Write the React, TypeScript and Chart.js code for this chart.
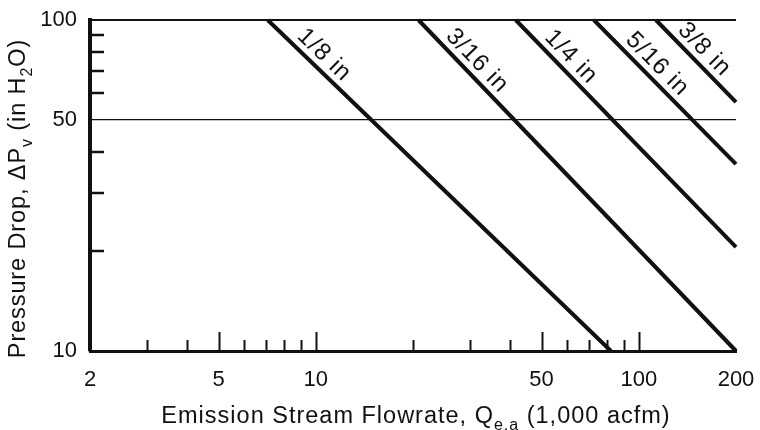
import React, { useEffect, useRef } from "react";
import { Chart, registerables } from "chart.js";

Chart.register(...registerables);

// ---- data ----
const xTickLabels = [2, 5, 10, 50, 100, 200];
const xMinorTicks = [3, 4, 6, 7, 8, 9, 20, 30, 40, 60, 70, 80, 90];
const xLongTicks = [5, 10, 50, 100];
const yTickLabels = [10, 50, 100];
const yMinorTicks = [20, 30, 40, 60, 70, 80, 90];
const yGridValues = [50, 100];

const seriesNames = ["1/8 in", "3/16 in", "1/4 in", "5/16 in", "3/8 in"];
const flow18 = [7.1, 82];
const drop18 = [100, 10];
const flow316 = [20.8, 200];
const drop316 = [100, 10];
const flow14 = [41.6, 200];
const drop14 = [100, 20.6];
const flow516 = [72.6, 200];
const drop516 = [100, 36.7];
const flow38 = [113, 200];
const drop38 = [100, 56.5];

const seriesFlows = [flow18, flow316, flow14, flow516, flow38];
const seriesDrops = [drop18, drop316, drop14, drop516, drop38];

// ---- styling / layout (not data) ----
const FONT = "'Liberation Sans', Arial, Helvetica, sans-serif";
const INK = "#111";
const labelAlong = [65, 70, 65, 76, 55];
const labelPerp = 14;

type Seg = { t: string; sub?: boolean };
const xTitle: Seg[] = [
  { t: "Emission Stream Flowrate, Q" },
  { t: "e,a", sub: true },
  { t: " (1,000 acfm)" },
];
const yTitle: Seg[] = [
  { t: "Pressure Drop, \u0394P" },
  { t: "v", sub: true },
  { t: " (in H" },
  { t: "2", sub: true },
  { t: "O)" },
];

function drawRich(ctx: CanvasRenderingContext2D, segs: Seg[], size: number, spacing: number) {
  const subSize = Math.round(size * 0.68);
  (ctx as any).letterSpacing = `${spacing}px`;
  let total = 0;
  for (const s of segs) {
    ctx.font = `${s.sub ? subSize : size}px ${FONT}`;
    total += ctx.measureText(s.t).width;
  }
  let x = -total / 2;
  for (const s of segs) {
    ctx.font = `${s.sub ? subSize : size}px ${FONT}`;
    ctx.fillText(s.t, x, s.sub ? size * 0.28 : 0);
    x += ctx.measureText(s.t).width;
  }
  (ctx as any).letterSpacing = "0px";
}

const zeroPad = (s: any) => {
  s.paddingLeft = 0;
  s.paddingRight = 0;
  s.paddingTop = 0;
  s.paddingBottom = 0;
};

const decorPlugin = {
  id: "decor",
  afterDatasetsDraw(chart: any) {
    const ctx: CanvasRenderingContext2D = chart.ctx;
    const xs = chart.scales.x;
    const ys = chart.scales.y;
    const area = chart.chartArea;
    ctx.save();
    ctx.strokeStyle = INK;
    ctx.lineWidth = 2;
    // x ticks (inside, pointing up)
    for (const v of xMinorTicks.concat(xLongTicks)) {
      const px = Math.round(xs.getPixelForValue(v)) + 0.5;
      const len = xLongTicks.includes(v) ? 19 : 11;
      ctx.beginPath();
      ctx.moveTo(px, area.bottom);
      ctx.lineTo(px, area.bottom - len);
      ctx.stroke();
    }
    // y ticks (inside, pointing right)
    ctx.lineWidth = 2.5;
    for (const v of yMinorTicks) {
      const py = Math.round(ys.getPixelForValue(v));
      ctx.beginPath();
      ctx.moveTo(area.left, py);
      ctx.lineTo(area.left + 14, py);
      ctx.stroke();
    }
    // series labels
    ctx.fillStyle = INK;
    ctx.font = `24px ${FONT}`;
    (ctx as any).letterSpacing = "1px";
    ctx.textAlign = "center";
    ctx.textBaseline = "middle";
    chart.data.datasets.forEach((ds: any, i: number) => {
      const meta = chart.getDatasetMeta(i);
      const p0 = meta.data[0];
      const p1 = meta.data[1];
      const dx = p1.x - p0.x;
      const dy = p1.y - p0.y;
      const L = Math.hypot(dx, dy);
      const ux = dx / L;
      const uy = dy / L;
      const cx = p0.x + ux * labelAlong[i] + uy * labelPerp;
      const cy = p0.y + uy * labelAlong[i] - ux * labelPerp;
      ctx.save();
      ctx.translate(cx, cy);
      ctx.rotate(Math.atan2(dy, dx));
      ctx.fillText(ds.label, 0, 0);
      ctx.restore();
    });
    (ctx as any).letterSpacing = "0px";
    // axis titles
    ctx.textAlign = "left";
    ctx.textBaseline = "alphabetic";
    ctx.save();
    ctx.translate((area.left + area.right) / 2 + 3, 423);
    drawRich(ctx, xTitle, 23.5, 1.0);
    ctx.restore();
    ctx.save();
    ctx.translate(25, (area.top + area.bottom) / 2 + 13);
    ctx.rotate(-Math.PI / 2);
    drawRich(ctx, yTitle, 23.5, 0.9);
    ctx.restore();
    ctx.restore();
  },
};

export default function App() {
  const ref = useRef<HTMLCanvasElement | null>(null);
  useEffect(() => {
    if (!ref.current) return;
    const datasets = seriesNames.map((name, i) => ({
      label: name,
      data: seriesFlows[i].map((x, j) => ({ x, y: seriesDrops[i][j] })),
      borderColor: INK,
      borderWidth: 4,
      pointRadius: 0,
      borderCapStyle: "butt" as const,
      clip: false as any,
    }));
    const chart = new Chart(ref.current, {
      type: "line",
      data: { datasets },
      plugins: [decorPlugin],
      options: {
        animation: false,
        responsive: false,
        maintainAspectRatio: false,
        layout: { autoPadding: false, padding: { left: 0, right: 24, top: 20, bottom: 0 } },
        plugins: { legend: { display: false }, tooltip: { enabled: false } },
        scales: {
          x: {
            type: "logarithmic",
            min: 2,
            max: 200,
            afterBuildTicks: (s: any) => {
              s.ticks = xTickLabels.map((v) => ({ value: v }));
            },
            afterFit: (s: any) => {
              s.height = 79;
              zeroPad(s);
            },
            ticks: {
              autoSkip: false,
              maxRotation: 0,
              padding: 16,
              color: INK,
              font: { family: FONT, size: 22 },
              callback: (v: any) => String(v),
            },
            grid: { display: false, drawTicks: false },
            border: { display: true, color: INK, width: 3 },
          },
          y: {
            type: "logarithmic",
            min: 10,
            max: 100,
            afterBuildTicks: (s: any) => {
              s.ticks = yTickLabels.map((v) => ({ value: v }));
            },
            afterFit: (s: any) => {
              s.width = 90;
              zeroPad(s);
            },
            ticks: {
              autoSkip: false,
              padding: 13,
              color: INK,
              font: { family: FONT, size: 22 },
              callback: (v: any) => String(v),
            },
            grid: {
              drawTicks: false,
              color: (c: any) =>
                c.tick && yGridValues.includes(c.tick.value) ? INK : "rgba(0,0,0,0)",
              lineWidth: (c: any) => (c.tick && c.tick.value === 100 ? 2 : 1.3),
            },
            border: { display: true, color: INK, width: 4 },
          },
        },
      },
    });
    return () => chart.destroy();
  }, []);
  return (
    <div
      style={{
        position: "fixed",
        left: 0,
        top: 0,
        width: 760,
        height: 430,
        background: "#fff",
      }}
    >
      <canvas ref={ref} width={760} height={430} style={{ width: 760, height: 430, display: "block" }} />
    </div>
  );
}
